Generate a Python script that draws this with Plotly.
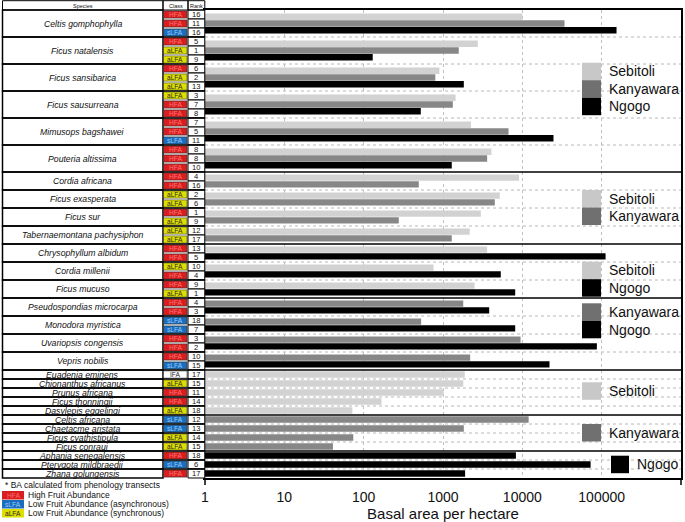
import plotly.graph_objects as go

# ---------------- data ----------------
species = [
    "Celtis gomphophylla", "Ficus natalensis", "Ficus sansibarica", "Ficus sausurreana",
    "Mimusops bagshawei", "Pouteria altissima",
    "Cordia africana", "Ficus exasperata", "Ficus sur", "Tabernaemontana pachysiphon",
    "Chrysophyllum albidum", "Cordia millenii", "Ficus mucuso",
    "Pseudospondias microcarpa", "Monodora myristica", "Uvariopsis congensis", "Vepris nobilis",
    "Euadenia eminens", "Chionanthus africanus", "Prunus africana", "Ficus thonningii", "Dasylepis eggelingi",
    "Celtis africana", "Chaetacme aristata", "Ficus cyathistipula", "Ficus conraui",
    "Aphania senegalensis", "Pterygota mildbraedii", "Zhana golungensis",
]
group_sizes = [6, 4, 3, 4, 5, 4, 3]
group_sites = [
    ["Sebitoli", "Kanyawara", "Ngogo"],
    ["Sebitoli", "Kanyawara"],
    ["Sebitoli", "Ngogo"],
    ["Kanyawara", "Ngogo"],
    ["Sebitoli"],
    ["Kanyawara"],
    ["Ngogo"],
]
basal_area = [
    [10000, 34000, 154000],
    [2750, 1580, 130],
    [900, 800, 1830],
    [1440, 1330, 525],
    [2250, 6700, 24700],
    [4080, 3600, 1290],
    [9100, 495],
    [5200, 4500],
    [3000, 277],
    [2170, 1290],
    [3600, 112000],
    [760, 5350],
    [2500, 8130],
    [1800, 3820],
    [530, 8130],
    [9500, 87000],
    [2200, 22000],
    [1880], [1800], [1020], [168], [72],
    [12000], [1830], [74], [41],
    [8300], [72600], [1900],
]
fruit_class = [
    ["HFA", "HFA", "sLFA"], ["HFA", "aLFA", "aLFA"], ["HFA", "aLFA", "aLFA"],
    ["aLFA", "HFA", "HFA"], ["HFA", "HFA", "sLFA"], ["HFA", "HFA", "HFA"],
    ["HFA", "HFA"], ["aLFA", "aLFA"], ["HFA", "aLFA"], ["aLFA", "aLFA"],
    ["HFA", "HFA"], ["aLFA", "HFA"], ["HFA", "aLFA"],
    ["HFA", "HFA"], ["sLFA", "sLFA"], ["HFA", "HFA"], ["HFA", "sLFA"],
    ["IFA"], ["aLFA"], ["HFA"], ["HFA"], ["aLFA"],
    ["sLFA"], ["sLFA"], ["aLFA"], ["aLFA"],
    ["HFA"], ["sLFA"], ["HFA"],
]
rank = [
    [16, 11, 16], [5, 1, 9], [6, 2, 13], [3, 7, 8], [7, 5, 11], [8, 8, 10],
    [4, 16], [2, 6], [1, 9], [12, 17],
    [13, 5], [10, 4], [9, 1],
    [4, 3], [18, 7], [3, 2], [10, 15],
    [17], [15], [11], [14], [18],
    [12], [13], [14], [15],
    [18], [6], [17],
]
tick_vals = [1, 10, 100, 1000, 10000, 100000]
tick_text = ["1", "10", "100", "1000", "10000", "100000"]
class_legend = [("HFA", "High Fruit Abundance"),
                ("sLFA", "Low Fruit Abundance (asynchronous)"),
                ("aLFA", "Low Fruit Abundance (synchronous)")]

# ---------------- styles ----------------
bar_color = {"Sebitoli": "#d2d2d2", "Kanyawara": "#878787", "Ngogo": "#000000"}
leg_color = {"Sebitoli": "#c8c8c8", "Kanyawara": "#707070", "Ngogo": "#000000"}
cls_bg = {"HFA": "#d81e1e", "sLFA": "#1c6dbb", "aLFA": "#dede00", "IFA": "#ffffff"}
cls_fg = {"HFA": "#ff7272", "sLFA": "#96ccff", "aLFA": "#2a2a2a", "IFA": "#222222"}
FONT = "Liberation Sans, Arial, sans-serif"

W, H = 685, 522
L, R, T, B = 205, 681, 10, 478
ROW = 9.0
NROWS = 52


def xp(px):
    return (px - L) / (R - L)


def yp(py):
    return 1 - (py - T) / (B - T)


def rowpx(r):
    return T + ROW * r


def text(txt, px, py, size, color="#111", anchor="center"):
    return dict(text=txt, xref="paper", yref="paper", x=xp(px), y=yp(py),
                xanchor=anchor, yanchor="middle", showarrow=False,
                font=dict(size=size, color=color, family=FONT))


# legend block tops (pixels) per group
legend_top = [62.7, 190, 261.7, 303.3, 382.3, 424, 455.7]

fig = go.Figure()
shapes = []
ann = []

traces = {s: {"y": [], "x": []} for s in ["Sebitoli", "Kanyawara", "Ngogo"]}
row = 0
si = 0
species_bounds = []
group_bounds = []
for g, gsize in enumerate(group_sizes):
    sites = group_sites[g]
    n = len(sites)
    for j in range(gsize):
        start = row
        c = start + n / 2
        for k, site in enumerate(sites):
            traces[site]["y"].append(c + (k - (n - 1) / 2) * 0.75)
            traces[site]["x"].append(basal_area[si][k])
        y0, y1 = rowpx(start), rowpx(start + n)
        shapes.append(dict(type="rect", xref="paper", yref="paper", x0=xp(2.5), x1=xp(163),
                           y0=yp(y0), y1=yp(y1), line=dict(color="black", width=1.5)))
        ann.append(text("<i>" + species[si] + "</i>", 82.5, (y0 + y1) / 2 + 0.3, 8.7))
        for k in range(n):
            r0, r1 = rowpx(start + k), rowpx(start + k + 1)
            cl = fruit_class[si][k]
            shapes.append(dict(type="rect", xref="paper", yref="paper", x0=xp(163.5), x1=xp(187),
                               y0=yp(r0 + 0.9), y1=yp(r1 - 0.9), fillcolor=cls_bg[cl],
                               line=dict(color="#333", width=0.6)))
            ann.append(text(cl, 175.2, (r0 + r1) / 2, 6.6, cls_fg[cl]))
            shapes.append(dict(type="rect", xref="paper", yref="paper", x0=xp(188), x1=xp(204.8),
                               y0=yp(r0), y1=yp(r1), fillcolor="white",
                               line=dict(color="black", width=1)))
            ann.append(text(str(rank[si][k]), 196.4, (r0 + r1) / 2, 7.6))
        row += n
        si += 1
        species_bounds.append(row)
    group_bounds.append(row)
    lx0, lx1, tx = (582, 601, 607) if g != 6 else (611, 629, 635)
    for k, site in enumerate(sites):
        t0 = legend_top[g] + 17.5 * k
        shapes.append(dict(type="rect", xref="paper", yref="paper", x0=xp(lx0), x1=xp(lx1),
                           y0=yp(t0), y1=yp(t0 + 17.5), fillcolor=leg_color[site], line=dict(width=0)))
        ann.append(text(site, tx, t0 + 8.75, 14, anchor="left"))

for b in species_bounds[:-1]:
    py = rowpx(b)
    shapes.append(dict(type="line", xref="paper", yref="paper", x0=xp(163), x1=xp(205),
                       y0=yp(py), y1=yp(py), line=dict(color="black", width=1.5)))
    if b not in group_bounds:
        shapes.append(dict(type="line", xref="paper", yref="paper", x0=0, x1=1, y0=yp(py), y1=yp(py),
                           layer="below", line=dict(color="#b8b8b8", width=1, dash="dot")))
for b in group_bounds[:-1]:
    py = rowpx(b)
    shapes.append(dict(type="line", xref="paper", yref="paper", x0=0, x1=1, y0=yp(py), y1=yp(py),
                       line=dict(color="black", width=1.5)))

for px in (L, R):
    shapes.append(dict(type="line", xref="paper", yref="paper", x0=xp(px), x1=xp(px),
                       y0=yp(B), y1=yp(B + 7), line=dict(color="black", width=1.5)))

for (a, b_, txt) in [(2.5, 163, "Species"), (163, 188, "Class"), (188, 204.8, "Rank")]:
    shapes.append(dict(type="rect", xref="paper", yref="paper", x0=xp(a), x1=xp(b_),
                       y0=yp(0.7), y1=yp(T), line=dict(color="black", width=1)))
    ann.append(text(txt, (a + b_) / 2, 5.5, 5.5))

ann.append(text("* BA calculated from phenology transects", 3, 485, 8.5, anchor="left"))
for k, (cl, desc) in enumerate(class_legend):
    t0 = 491 + 9 * k
    shapes.append(dict(type="rect", xref="paper", yref="paper", x0=xp(2), x1=xp(24),
                       y0=yp(t0), y1=yp(t0 + 8.5), fillcolor=cls_bg[cl], line=dict(width=0)))
    ann.append(text(cl, 13, t0 + 4.3, 6.6, cls_fg[cl]))
    ann.append(text(desc, 26, t0 + 4.3, 8.5, anchor="left"))

for site in ["Sebitoli", "Kanyawara", "Ngogo"]:
    fig.add_trace(go.Bar(y=traces[site]["y"], x=traces[site]["x"], orientation="h",
                         width=0.72, name=site, marker=dict(color=bar_color[site], line=dict(width=0)),
                         showlegend=False))

fig.update_layout(
    width=W, height=H,
    margin=dict(l=L, r=W - R, t=T, b=H - B),
    paper_bgcolor="white", plot_bgcolor="white",
    barmode="overlay",
    font=dict(family=FONT, color="#111"),
    shapes=shapes, annotations=ann,
    xaxis=dict(type="log", range=[0, 6], tickvals=tick_vals, ticktext=tick_text,
               tickfont=dict(size=14, color="#111"), ticks="outside", ticklen=5,
               tickcolor="rgba(0,0,0,0)", showgrid=True, gridcolor="#c0c0c0", griddash="dot",
               gridwidth=1, showline=True, linecolor="black", linewidth=1.5, mirror=True,
               zeroline=False, automargin=False,
               title=dict(text="Basal area per hectare", font=dict(size=15, color="#111"), standoff=3)),
    yaxis=dict(range=[NROWS, 0], showticklabels=False, showgrid=False, zeroline=False,
               showline=True, linecolor="black", linewidth=1.5, mirror=True, ticks="",
               automargin=False),
)

fig.write_html("out.html", config={"displayModeBar": False},
               post_script="document.body.style.margin='0px';")
